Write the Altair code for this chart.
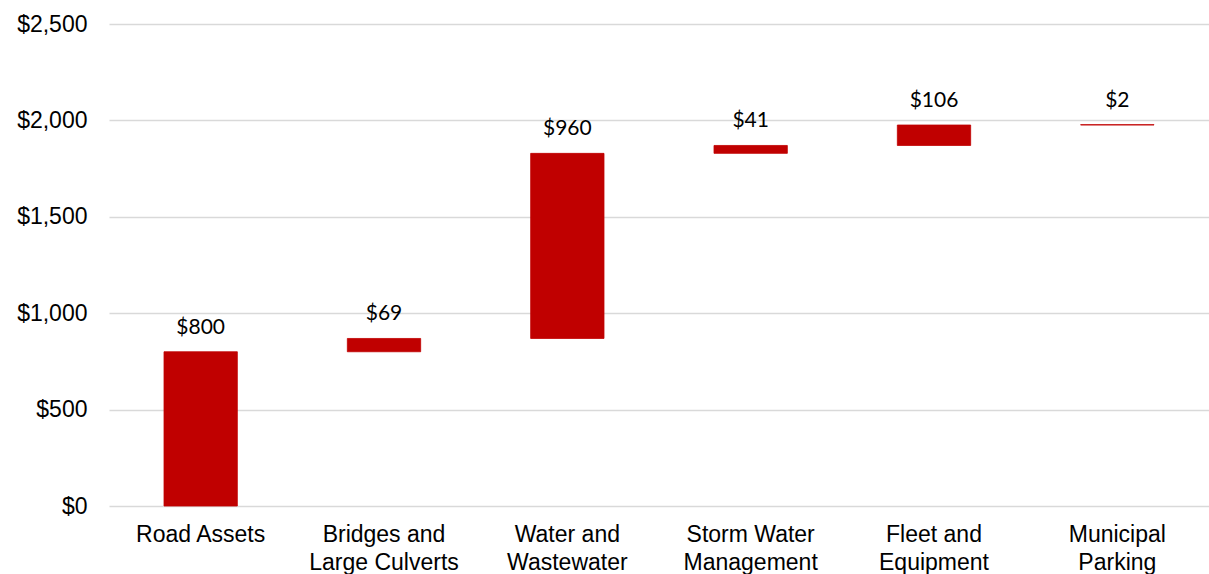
import altair as alt
import pandas as pd

categories = ["Road Assets", "Bridges and|Large Culverts", "Water and|Wastewater",
              "Storm Water|Management", "Fleet and|Equipment", "Municipal|Parking"]
values = [800, 69, 960, 41, 106, 2]
y_ticks = [0, 500, 1000, 1500, 2000, 2500]

starts, ends = [], []
running = 0
for v in values:
    starts.append(running)
    running += v
    ends.append(running)

df = pd.DataFrame({
    "category": categories,
    "value": values,
    "start": starts,
    "end": ends,
    "label": ["$" + f"{v:,}" for v in values],
})

x_enc = alt.X(
    "category:N", sort=categories, title=None,
    scale=alt.Scale(paddingInner=0.6, paddingOuter=0.3),
    axis=alt.Axis(labelExpr="split(datum.label, '|')", labelAngle=0,
                  labelFont="Liberation Sans", labelFontSize=23, labelColor="#000000",
                  labelLineHeight=28, labelPadding=17, labelBaseline="top",
                  ticks=False, domain=False, grid=False),
)

bars = alt.Chart(df).mark_bar(color="#C00000", stroke="#C00000", strokeWidth=0.8).encode(
    x=x_enc,
    y=alt.Y("start:Q", title=None,
            scale=alt.Scale(domain=[0, 2500], nice=False),
            axis=alt.Axis(values=y_ticks, labelExpr="'$' + format(datum.value, ',')",
                          labelFont="Liberation Sans", labelFontSize=23, labelColor="#000000",
                          labelPadding=22, ticks=False, domain=False,
                          gridColor="#d9d9d9", gridWidth=1.5)),
    y2="end:Q",
)

labels = alt.Chart(df).mark_text(
    font="Lato", fontSize=21, color="#000000", baseline="bottom", dy=-14
).encode(
    x=alt.X("category:N", sort=categories),
    y=alt.Y("end:Q"),
    text="label:N",
)

chart = (bars + labels).properties(
    width=1100, height=482,
    background="white",
    autosize=alt.AutoSizeParams(type="none"),
    padding={"left": 109, "top": 24, "right": 0, "bottom": 68},
).configure_view(strokeWidth=0, stroke="transparent").configure_axis(domain=False)

chart.save("out.html", embed_options={"renderer": "svg", "actions": False})
